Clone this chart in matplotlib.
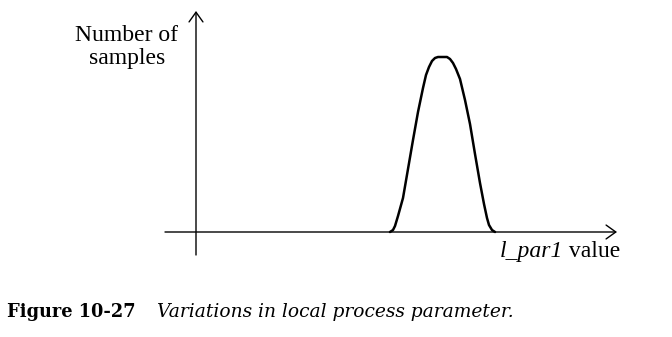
import matplotlib.pyplot as plt

# parameter value (x) and number of samples (y); origin at the axis crossing
l_par1 = [194, 197, 199, 202, 207, 212, 217, 222, 227, 230, 233, 236, 239, 242,
          247, 251, 254, 257, 260, 264, 269, 274, 279, 284, 288, 291, 293, 296, 299]
samples = [0, 2, 6, 16, 34, 63, 92, 120, 144, 157, 165, 171, 174, 175,
           175, 175, 173, 169, 163, 153, 132, 108, 78, 49, 28, 14, 7, 2, 0]

fig = plt.figure(figsize=(6.72, 3.37), dpi=100)
ax = fig.add_axes([0, 0, 1, 1])
ax.set_xlim(-196, 476)
ax.set_ylim(-105, 232)
ax.axis('off')

arrow = dict(arrowstyle='->,head_length=0.35,head_width=0.25', mutation_scale=20,
             color='black', lw=1.0, shrinkA=0, shrinkB=0)
ax.annotate('', xy=(421, 0), xytext=(-31, 0), arrowprops=arrow)
ax.annotate('', xy=(0, 221), xytext=(0, -23), arrowprops=arrow)

ax.plot(l_par1, samples, color='black', lw=1.8, solid_joinstyle='round',
        solid_capstyle='round')

ax.text(-69, 185, 'Number of\nsamples', ha='center', va='center', fontsize=17,
        family='Liberation Serif', linespacing=1.15)

# x-axis label: italic name then upright " value" on the same baseline
t = ax.text(304, -25, 'l_par1', ha='left', va='baseline', fontsize=17,
            family='Liberation Serif', style='italic')
fig.canvas.draw()
x_end = t.get_window_extent().x1
y_base = ax.transData.transform((0, -25))[1]
ax.text(x_end, y_base, ' value', transform=None, ha='left', va='baseline',
        fontsize=17, family='Liberation Serif')

ax.text(7, 25, 'Figure 10-27', transform=None, ha='left', va='center',
        fontsize=12.8, family='DejaVu Serif', fontweight='bold')
ax.text(157, 25, 'Variations in local process parameter.', transform=None,
        ha='left', va='center', fontsize=13.4, family='DejaVu Serif', style='italic')

fig.savefig('out.png', dpi=100)
